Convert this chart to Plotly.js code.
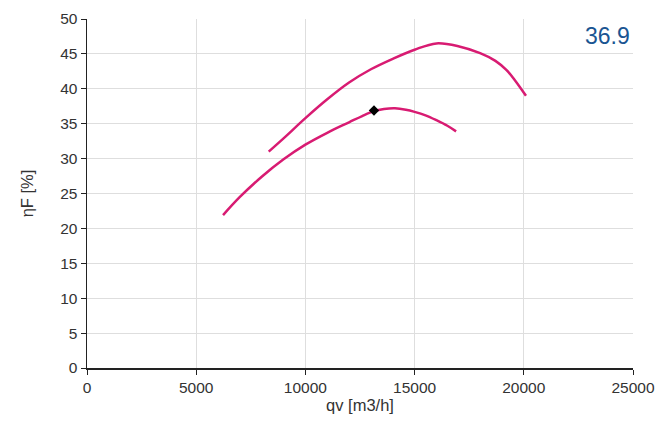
<!DOCTYPE html>
<html>
<head>
<meta charset="utf-8">
<script src="https://cdn.plot.ly/plotly-3.0.1.min.js"></script>
<style>html,body{margin:0;padding:0;background:#fff;}#chart{width:658px;height:421px;}</style>
</head>
<body>
<div id="chart"></div>
<script>
// Upper efficiency curve
var upperQv  = [8320, 9000, 10000, 11000, 12000, 13000, 14000, 15000, 16000, 17000, 18000, 18700, 19200, 19600, 20100];
var upperEta = [31.0, 32.9, 35.8, 38.5, 40.9, 42.8, 44.3, 45.6, 46.5, 46.1, 45.1, 44.0, 42.7, 41.2, 39.0];
// Lower efficiency curve
var lowerQv  = [6230, 7000, 8000, 9000, 10000, 11000, 12000, 12600, 13140, 13600, 14100, 14600, 15000, 15500, 16000, 16500, 16900];
var lowerEta = [21.9, 24.5, 27.4, 29.9, 32.0, 33.7, 35.2, 36.1, 36.8, 37.1, 37.2, 37.0, 36.7, 36.2, 35.5, 34.7, 33.9];
// Operating point
var pointQv  = [13140];
var pointEta = [36.9];
var pointLabel = "36.9";
var xTitle = "qv [m3/h]";
var yTitle = "ηF [%]";

var lineColor = "#d81b72";
var fontFam = "Liberation Sans, Arial, sans-serif";

var traces = [
  {x: upperQv, y: upperEta, mode: "lines", line: {color: lineColor, width: 2.5, shape: "spline", smoothing: 1}, hoverinfo: "skip"},
  {x: lowerQv, y: lowerEta, mode: "lines", line: {color: lineColor, width: 2.5, shape: "spline", smoothing: 1}, hoverinfo: "skip"},
  {x: pointQv, y: pointEta, mode: "markers", marker: {symbol: "diamond", size: 8, color: "#000"}, hoverinfo: "skip"}
];

var layout = {
  width: 658, height: 421,
  margin: {l: 87, r: 25, t: 19, b: 53, pad: 0},
  paper_bgcolor: "#fff", plot_bgcolor: "#fff",
  showlegend: false,
  font: {family: fontFam, size: 15.5, color: "#333"},
  xaxis: {
    range: [0, 25000], tickvals: [0, 5000, 10000, 15000, 20000, 25000],
    ticktext: ["0", "5000", "10000", "15000", "20000", "25000"],
    showgrid: true, gridcolor: "#dedede", gridwidth: 1,
    showline: true, linecolor: "#222", linewidth: 1.5,
    ticks: "outside", ticklen: 5, tickcolor: "#222",
    zeroline: false,
    title: {text: xTitle, standoff: 4, font: {family: fontFam, size: 16.5, color: "#333"}}
  },
  yaxis: {
    range: [0, 50], tickvals: [0,5,10,15,20,25,30,35,40,45,50],
    showgrid: true, gridcolor: "#dedede", gridwidth: 1,
    showline: true, linecolor: "#222", linewidth: 1.5,
    ticks: "outside", ticklen: 5, tickcolor: "#222",
    zeroline: false,
    title: {text: yTitle, standoff: 22, font: {family: fontFam, size: 16.5, color: "#333"}}
  },
  annotations: [{
    xref: "paper", yref: "paper", x: 1, y: 1, xanchor: "right", yanchor: "top",
    yshift: -2, xshift: -1,
    text: pointLabel, showarrow: false,
    font: {family: fontFam, size: 23, color: "#1a5592"}
  }]
};

Plotly.newPlot("chart", traces, layout, {displayModeBar: false, staticPlot: true});
</script>
</body>
</html>
